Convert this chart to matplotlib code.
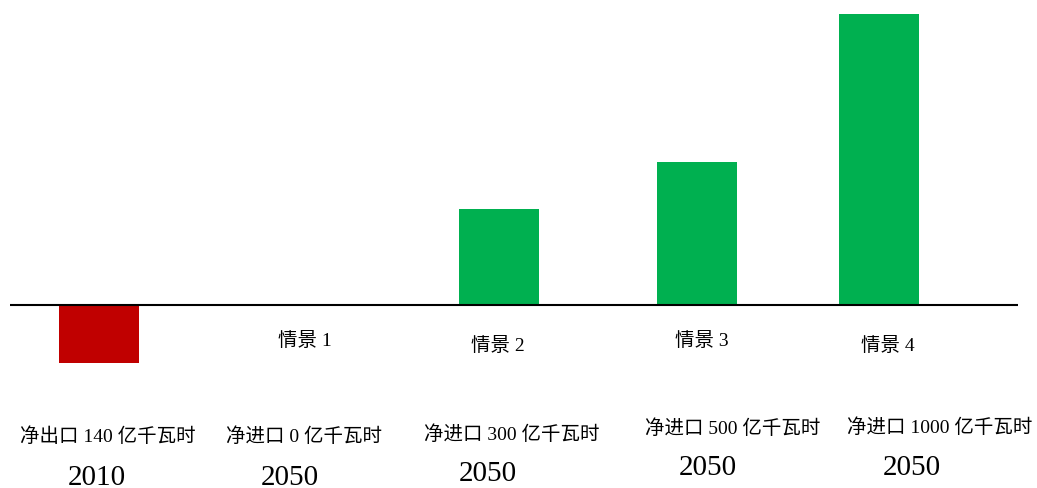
import matplotlib
matplotlib.use("Agg")
import matplotlib.pyplot as plt

# data
scenarios = ["", "情景 1", "情景 2", "情景 3", "情景 4"]
trade_labels = ["净出口 140 亿千瓦时", "净进口 0 亿千瓦时", "净进口 300 亿千瓦时",
                "净进口 500 亿千瓦时", "净进口 1000 亿千瓦时"]
years = ["2010", "2050", "2050", "2050", "2050"]
bar_values = [-200, 0, 330, 490, 1000]
bar_colors = ["#C00000", "#00B050", "#00B050", "#00B050", "#00B050"]

# layout (pixel coordinates in the original 1037x488 image)
W, H = 1037, 488
bar_x = [99, 299, 499, 697, 879]
scen_xy = [(0, 0), (305, 341), (498, 346), (702, 341), (888, 346)]
trade_xy = [(108, 437), (304, 437), (512, 435), (733, 429), (940, 428)]
year_xy = [(97, 478), (290, 478), (488, 474), (708, 468), (912, 468)]

fonts = ["Liberation Serif", "Noto Sans CJK SC", "DejaVu Sans"]

fig = plt.figure(figsize=(W / 100, H / 100), dpi=100)
ax = fig.add_axes([0, 0, 1, 1])
px_per_unit = 0.291
base_px = 305
ax.set_ylim(-(H - base_px) / px_per_unit, base_px / px_per_unit)
ax.set_xlim(0, W)
ax.axis("off")


def to_data(x, y):
    return x, (base_px - y) / px_per_unit


ax.bar(bar_x, bar_values, width=80, color=bar_colors, zorder=2)
ax.hlines(0, 10, 1018, color="black", linewidth=1.5, zorder=3)

for i in range(5):
    if scenarios[i]:
        x, y = to_data(*scen_xy[i])
        ax.text(x, y, scenarios[i], ha="center", va="center",
                fontsize=14, family=fonts)
    x, y = to_data(*trade_xy[i])
    ax.text(x, y, trade_labels[i], ha="center", va="center",
            fontsize=14, family=fonts)
    x, y = to_data(*year_xy[i])
    ax.text(x, y, years[i], ha="center", va="center",
            fontsize=21, family=fonts)

plt.savefig("out.png", dpi=100)
